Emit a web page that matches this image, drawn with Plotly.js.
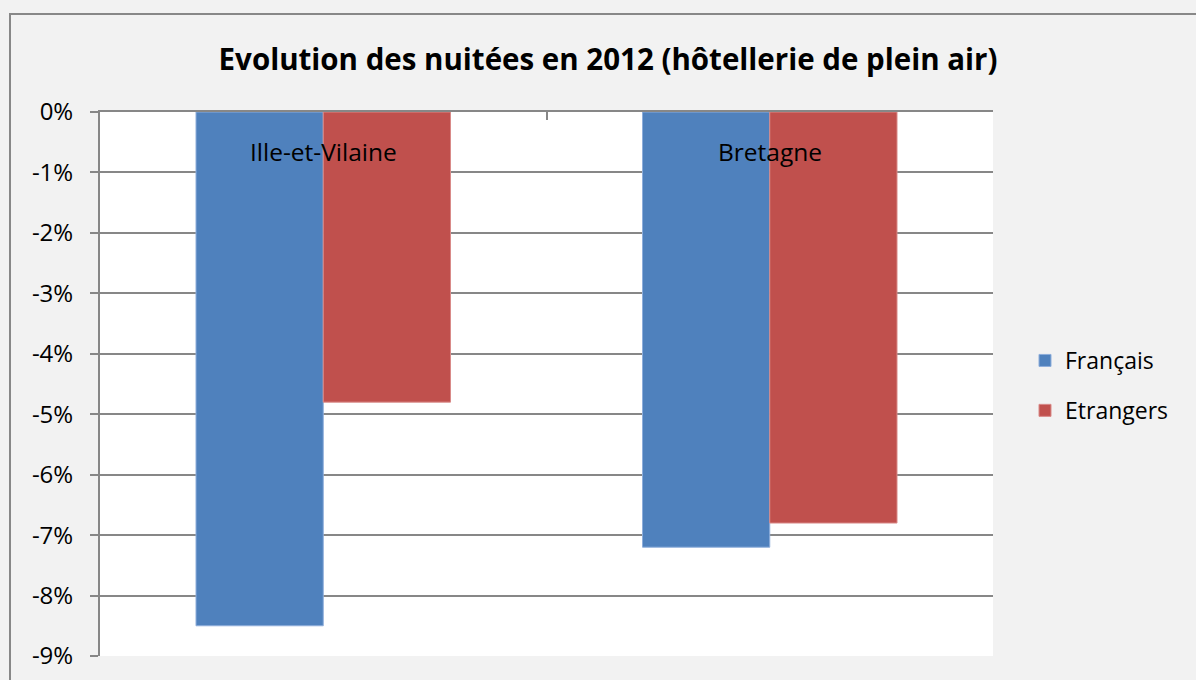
<!DOCTYPE html>
<html>
<head>
<meta charset="utf-8">
<script src="https://cdn.plot.ly/plotly-3.0.1.min.js"></script>
<style>
html,body{margin:0;padding:0;background:#f2f2f2;}
#chart{width:1196px;height:680px;}
</style>
</head>
<body>
<div id="chart"></div>
<script>
var categories = ["Ille-et-Vilaine", "Bretagne"];
var seriesNames = ["Français", "Etrangers"];
var francais = [-8.5, -7.2];
var etrangers = [-4.8, -6.8];
var yTickVals = [0, -1, -2, -3, -4, -5, -6, -7, -8, -9];
var yTickText = ["0%", "-1%", "-2%", "-3%", "-4%", "-5%", "-6%", "-7%", "-8%", "-9%"];

var W = 1196, H = 680;
var m = {l: 100, r: 203, t: 112, b: 24};
var pw = W - m.l - m.r, ph = H - m.t - m.b;
function px(x){ return (x - m.l) / pw; }
function py(y){ return (H - m.b - y) / ph; }

var font = "'Open Sans', 'Noto Sans', sans-serif";
var grid = "#878787";

var traces = [
  {type: "bar", name: seriesNames[0], x: categories, y: francais,
   marker: {color: "#4f81bd", line: {color: "#8eaedb", width: 1}}, legendgroup: "a"},
  {type: "bar", name: seriesNames[1], x: categories, y: etrangers,
   marker: {color: "#c0504d", line: {color: "#d98a88", width: 1}}, legendgroup: "b"}
];

var annotations = categories.map(function(c){
  return {x: c, xref: "x", y: py(151), yref: "paper", yanchor: "middle",
          text: c, showarrow: false,
          font: {family: font, size: 24.5, color: "#000000"}};
});

var layout = {
  width: W, height: H,
  margin: m,
  paper_bgcolor: "#f2f2f2",
  plot_bgcolor: "#ffffff",
  barmode: "group",
  bargap: 0.43,
  bargroupgap: 0,
  hovermode: false,
  title: {
    text: "<b>Evolution des nuitées en 2012 (hôtellerie de plein air)</b>",
    font: {family: font, size: 29.5, color: "#000000"},
    x: 608 / W, xanchor: "center", xref: "container",
    y: 1 - 60 / H, yanchor: "middle", yref: "container"
  },
  xaxis: {
    type: "category",
    side: "top",
    showline: true, linecolor: grid, linewidth: 2,
    ticks: "inside", ticklen: 8, tickwidth: 2, tickcolor: grid,
    tickson: "boundaries",
    showticklabels: false,
    showgrid: false, zeroline: false, fixedrange: true
  },
  yaxis: {
    range: [-9, 0],
    tickvals: yTickVals, ticktext: yTickText,
    showline: true, linecolor: grid, linewidth: 2,
    ticks: "outside", ticklen: 8, tickwidth: 2, tickcolor: grid,
    ticklabelstandoff: 12,
    showgrid: true, gridcolor: grid, gridwidth: 2,
    zeroline: false,
    tickfont: {family: font, size: 24, color: "#000000"},
    fixedrange: true
  },
  legend: {
    x: px(1025), xanchor: "left",
    y: py(339), yanchor: "top",
    font: {family: font, size: 23, color: "#000000"},
    traceorder: "grouped", tracegroupgap: 17,
    bgcolor: "rgba(0,0,0,0)",
    itemwidth: 30
  },
  annotations: annotations,
  shapes: [{
    type: "rect", xref: "paper", yref: "paper",
    x0: px(10), x1: px(W + 20), y0: py(H + 20), y1: py(14),
    line: {color: "#888888", width: 2}, fillcolor: "rgba(0,0,0,0)", layer: "below"
  }]
};

Plotly.newPlot("chart", traces, layout, {displayModeBar: false, staticPlot: true});
</script>
</body>
</html>
